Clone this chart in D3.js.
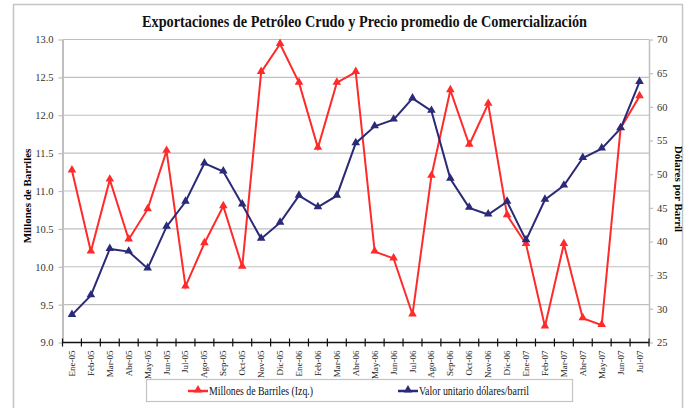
<!DOCTYPE html>
<html>
<head>
<meta charset="utf-8">
<script src="https://cdn.jsdelivr.net/npm/d3@7"></script>
<style>
  body { margin: 0; background: #fff; }
  text { font-family: "Liberation Serif", "Times New Roman", serif; }
</style>
</head>
<body>
<script>
// meses (eje x)
var meses = ["Ene-05","Feb-05","Mar-05","Abr-05","May-05","Jun-05","Jul-05","Ago-05",
  "Sep-05","Oct-05","Nov-05","Dic-05","Ene-06","Feb-06","Mar-06","Abr-06","May-06",
  "Jun-06","Jul-06","Ago-06","Sep-06","Oct-06","Nov-06","Dic-06","Ene-07","Feb-07",
  "Mar-07","Abr-07","May-07","Jun-07","Jul-07"];

// millones de barriles (eje izq.)
var barriles = [11.27,10.20,11.15,10.36,10.76,11.53,9.74,10.31,10.80,10.00,12.57,12.94,
  12.43,11.57,12.43,12.57,10.20,10.11,9.37,11.20,12.33,11.61,12.15,10.68,10.30,9.21,
  10.30,9.32,9.23,11.83,12.25];

// valor unitario dolares/barril (eje der.)
var precio = [29.1,32.0,38.9,38.5,36.0,42.2,45.9,51.6,50.4,45.5,40.4,42.8,46.8,45.1,
  46.8,54.6,57.1,58.1,61.25,59.4,49.3,45.0,44.0,45.9,40.2,46.2,48.3,52.4,53.8,56.8,63.7];

var ticksIzq = [9.0,9.5,10.0,10.5,11.0,11.5,12.0,12.5,13.0];
var ticksDer = [25,30,35,40,45,50,55,60,65,70];

var W = 691, H = 408;
var plot = {x0: 62.5, x1: 649, y0: 39.5, y1: 342.5};
var rojo = "#ff2a2a", azul = "#2b2a78", gris = "#bfbfbf";
var serif = "Liberation Serif";

var svg = d3.select("body").append("svg")
  .attr("width", W).attr("height", H);

// marco exterior
svg.append("rect")
  .attr("x", 13.5).attr("y", 4.5)
  .attr("width", 669).attr("height", 420)
  .attr("fill", "none").attr("stroke", "#c4c4c4").attr("stroke-width", 1.5);

var x = d3.scaleBand().domain(meses).range([plot.x0, plot.x1]);
var yIzq = d3.scaleLinear().domain([9, 13]).range([plot.y1, plot.y0]);
var yDer = d3.scaleLinear().domain([25, 70]).range([plot.y1, plot.y0]);

// titulo (letra angosta, como en el original)
svg.append("text")
  .attr("x", 142).attr("y", 27)
  .attr("font-family", serif)
  .attr("font-size", "16.5px").attr("font-weight", "bold")
  .attr("textLength", 445).attr("lengthAdjust", "spacingAndGlyphs")
  .attr("fill", "#111")
  .text("Exportaciones de Petróleo Crudo y Precio promedio de Comercialización");

// grilla
svg.append("g").selectAll("line").data(ticksIzq.slice(1)).join("line")
  .attr("x1", plot.x0).attr("x2", plot.x1)
  .attr("y1", function(d) { return yIzq(d); })
  .attr("y2", function(d) { return yIzq(d); })
  .attr("stroke", gris).attr("stroke-width", 1.2);

// eje izquierdo
var gIzq = svg.append("g").attr("transform", "translate(" + plot.x0 + ",0)")
  .call(d3.axisLeft(yIzq).tickValues(ticksIzq).tickFormat(d3.format(".1f"))
    .tickSize(4).tickSizeOuter(0));
gIzq.select(".domain").attr("stroke", gris).attr("stroke-width", 2);
gIzq.selectAll(".tick line").attr("stroke", gris).attr("stroke-width", 1.2);
gIzq.selectAll(".tick text").attr("font-size", "10.5px").attr("fill", "#333")
  .attr("font-family", serif).attr("x", -9);

// eje derecho
var gDer = svg.append("g").attr("transform", "translate(" + plot.x1 + ",0)")
  .call(d3.axisRight(yDer).tickValues(ticksDer).tickSize(4).tickSizeOuter(0));
gDer.select(".domain").attr("stroke", gris).attr("stroke-width", 1.5);
gDer.selectAll(".tick line").attr("stroke", gris).attr("stroke-width", 1.2);
gDer.selectAll(".tick text").attr("font-size", "10.5px").attr("fill", "#333")
  .attr("font-family", serif).attr("x", 8);

// eje x
var gX = svg.append("g").attr("transform", "translate(0," + plot.y1 + ")");
gX.append("line")
  .attr("x1", plot.x0).attr("x2", plot.x1)
  .attr("stroke", "#111").attr("stroke-width", 1.5);
var bordes = meses.map(function(m) { return x(m); }).concat([plot.x1]);
gX.selectAll(".tk").data(bordes).join("line").attr("class", "tk")
  .attr("x1", function(d) { return d; }).attr("x2", function(d) { return d; })
  .attr("y1", -4).attr("y2", 4)
  .attr("stroke", "#111").attr("stroke-width", 1.2);
gX.selectAll(".lb").data(meses).join("text").attr("class", "lb")
  .attr("transform", function(d) {
    return "translate(" + (x(d) + x.bandwidth() / 2 + 3) + ",8) rotate(-90)";
  })
  .attr("text-anchor", "end")
  .attr("font-family", serif)
  .attr("font-size", "9px").attr("fill", "#222")
  .text(function(d) { return d; });

// titulos de ejes
svg.append("text")
  .attr("transform", "translate(31,196) rotate(-90)")
  .attr("text-anchor", "middle").attr("font-family", serif)
  .attr("font-size", "11px").attr("font-weight", "bold")
  .text("Millones de Barriles");
svg.append("text")
  .attr("transform", "translate(675,189) rotate(90)")
  .attr("text-anchor", "middle").attr("font-family", serif)
  .attr("font-size", "11px").attr("font-weight", "bold")
  .text("Dólares por Barril");

var tri = d3.symbol().type(d3.symbolTriangle).size(32);
var cx = function(d, i) { return x(meses[i]) + x.bandwidth() / 2; };

function serie(valores, escala, color) {
  var g = svg.append("g");
  g.append("path").datum(valores)
    .attr("fill", "none").attr("stroke", color).attr("stroke-width", 2)
    .attr("d", d3.line().x(cx).y(function(d) { return escala(d); }));
  g.selectAll("path.mk").data(valores).join("path").attr("class", "mk")
    .attr("d", tri).attr("fill", color)
    .attr("transform", function(d, i) {
      return "translate(" + cx(d, i) + "," + (escala(d) - 0.5) + ")";
    });
}
serie(barriles, yIzq, rojo);
serie(precio, yDer, azul);

// leyenda
var leg = svg.append("g");
leg.append("rect")
  .attr("x", 146.5).attr("y", 379.5).attr("width", 426).attr("height", 22)
  .attr("fill", "#fff").attr("stroke", "#c4c4c4").attr("stroke-width", 1.2);
var items = [
  {nombre: "Millones de Barriles (Izq.)", color: rojo, x: 188, largo: 104},
  {nombre: "Valor unitario dólares/barril", color: azul, x: 398, largo: 110}
];
items.forEach(function(it) {
  leg.append("line").attr("x1", it.x).attr("x2", it.x + 20)
    .attr("y1", 391).attr("y2", 391)
    .attr("stroke", it.color).attr("stroke-width", 2.5);
  leg.append("path").attr("d", tri).attr("fill", it.color)
    .attr("transform", "translate(" + (it.x + 10) + ",390)");
  leg.append("text").attr("x", it.x + 21).attr("y", 395)
    .attr("font-family", serif)
    .attr("font-size", "11.5px").attr("fill", "#111")
    .attr("textLength", it.largo).attr("lengthAdjust", "spacingAndGlyphs")
    .text(it.nombre);
});
</script>
</body>
</html>
